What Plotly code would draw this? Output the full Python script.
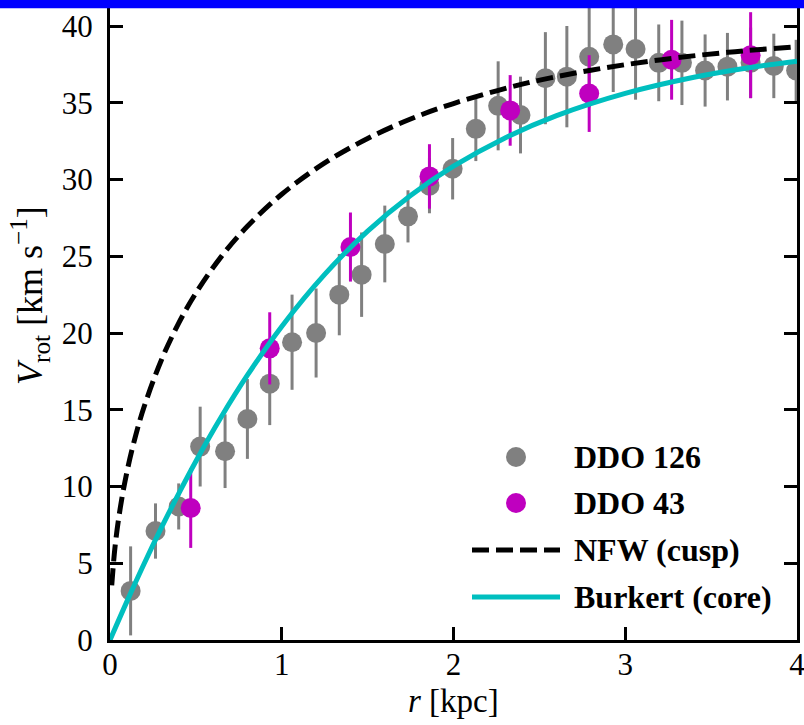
import plotly.graph_objects as go

# ---------------- data ----------------
r_ddo126 = [0.12, 0.265, 0.40, 0.525, 0.67, 0.80, 0.93, 1.06, 1.20, 1.335,
            1.465, 1.60, 1.735, 1.86, 1.995, 2.13, 2.26, 2.39, 2.535, 2.66,
            2.79, 2.93, 3.06, 3.195, 3.33, 3.465, 3.595, 3.73, 3.865, 3.995]
v_ddo126 = [3.2, 7.1, 8.7, 12.6, 12.3, 14.4, 16.7, 19.4, 20.0, 22.5,
            23.8, 25.8, 27.6, 29.6, 30.7, 33.3, 34.8, 34.2, 36.6, 36.7,
            38.0, 38.8, 38.5, 37.6, 37.6, 37.1, 37.35, 37.6, 37.4, 37.1]
e_ddo126 = [2.9, 1.8, 1.5, 2.6, 2.4, 2.6, 2.7, 3.1, 2.9, 2.65,
            2.75, 2.5, 1.7, 1.8, 2.0, 2.1, 2.9, 2.5, 3.0, 3.3,
            3.3, 3.1, 3.3, 2.5, 2.75, 2.35, 2.2, 2.3, 2.1, 2.0]

r_ddo43 = [0.47, 0.93, 1.40, 1.86, 2.33, 2.79, 3.27, 3.73]
v_ddo43 = [8.6, 19.0, 25.6, 30.2, 34.5, 35.6, 37.8, 38.1]
e_ddo43 = [2.6, 2.35, 2.25, 2.1, 2.3, 2.5, 2.6, 2.8]

r_nfw = [0.01, 0.03, 0.06, 0.1, 0.15, 0.2, 0.3, 0.4, 0.5, 0.65, 0.8, 1.0,
         1.25, 1.5, 1.75, 2.0, 2.4, 2.8, 3.2, 3.6, 4.0]
v_nfw = [3.56, 6.14, 8.62, 11.03, 13.35, 15.24, 18.26, 20.64, 22.60, 25.01,
         26.95, 29.04, 31.08, 32.67, 33.94, 34.95, 36.21, 37.12, 37.79, 38.29, 38.65]

r_burkert = [0, 0.1, 0.2, 0.3, 0.4, 0.5, 0.65, 0.8, 1.0, 1.25, 1.5, 1.75,
             2.0, 2.3, 2.6, 3.0, 3.4, 3.7, 4.0]
v_burkert = [0, 2.55, 5.00, 7.33, 9.54, 11.65, 14.58, 17.25, 20.43, 23.82,
             26.64, 28.96, 30.87, 32.71, 34.16, 35.61, 36.66, 37.25, 37.7]

x_ticks = [0, 1, 2, 3, 4]
y_ticks = [0, 5, 10, 15, 20, 25, 30, 35, 40]

legend_labels = ["DDO 126", "DDO 43", "NFW (cusp)", "Burkert (core)"]

GREY = "#808080"
MAGENTA = "#bf00bf"
CYAN = "#00bfbf"
SERIF = "Liberation Serif, Times New Roman, serif"

# ---------------- geometry ----------------
W, H = 804, 725
ML, MR, MT, MB = 110, 7, 0, 85
PW, PH = W - ML - MR, H - MT - MB


def px(xp):
    return (xp - ML) / PW


def py(yp):
    return (H - MB - yp) / PH


fig = go.Figure()

fig.add_trace(go.Scatter(
    x=r_ddo126, y=v_ddo126, mode="markers", name=legend_labels[0],
    marker=dict(color=GREY, size=20),
    error_y=dict(type="data", array=e_ddo126, color=GREY, thickness=3, width=0),
    showlegend=False))

fig.add_trace(go.Scatter(
    x=r_ddo43, y=v_ddo43, mode="markers", name=legend_labels[1],
    marker=dict(color=MAGENTA, size=20),
    error_y=dict(type="data", array=e_ddo43, color=MAGENTA, thickness=3, width=0),
    showlegend=False))

fig.add_trace(go.Scatter(
    x=r_nfw, y=v_nfw, mode="lines", name=legend_labels[2],
    line=dict(color="black", width=5, dash="17px,7px", shape="spline"),
    showlegend=False))

fig.add_trace(go.Scatter(
    x=r_burkert, y=v_burkert, mode="lines", name=legend_labels[3],
    line=dict(color=CYAN, width=5, shape="spline"),
    showlegend=False))

# ---------------- hand-made legend on an overlay axis ----------------
leg_y = [457, 503, 550, 597]
fig.add_trace(go.Scatter(x=[px(516)], y=[py(leg_y[0])], xaxis="x2", yaxis="y2",
                         mode="markers", marker=dict(color=GREY, size=20),
                         showlegend=False, hoverinfo="skip"))
fig.add_trace(go.Scatter(x=[px(516)], y=[py(leg_y[1])], xaxis="x2", yaxis="y2",
                         mode="markers", marker=dict(color=MAGENTA, size=20),
                         showlegend=False, hoverinfo="skip"))
fig.add_trace(go.Scatter(x=[px(472), px(560)], y=[py(leg_y[2])] * 2, xaxis="x2", yaxis="y2",
                         mode="lines", line=dict(color="black", width=5, dash="17px,7px"),
                         showlegend=False, hoverinfo="skip"))
fig.add_trace(go.Scatter(x=[px(472), px(560)], y=[py(leg_y[3])] * 2, xaxis="x2", yaxis="y2",
                         mode="lines", line=dict(color=CYAN, width=5),
                         showlegend=False, hoverinfo="skip"))

annotations = []
for lab, yy in zip(legend_labels, leg_y):
    annotations.append(dict(
        text="<b>" + lab + "</b>", xref="paper", yref="paper",
        x=px(572), y=py(yy), xanchor="left", yanchor="middle",
        showarrow=False, font=dict(family=SERIF, size=32, color="black")))

# axis titles
annotations.append(dict(
    text="<i>V</i><sub>rot</sub> [km s<sup>−1</sup>]", xref="paper", yref="paper",
    x=px(30), y=py(296), xanchor="center", yanchor="middle", textangle=-90,
    showarrow=False, font=dict(family=SERIF, size=36, color="black")))
annotations.append(dict(
    text="<i>r</i> [kpc]", xref="paper", yref="paper",
    x=0.5, y=py(701), xanchor="center", yanchor="middle",
    showarrow=False, font=dict(family=SERIF, size=33, color="black")))

fig.update_layout(
    width=W, height=H,
    margin=dict(l=ML, r=MR, t=MT, b=MB, pad=0),
    paper_bgcolor="white", plot_bgcolor="white",
    showlegend=False,
    font=dict(family=SERIF, color="black"),
    xaxis=dict(range=[0, 4], tickvals=x_ticks, ticktext=[str(t) for t in x_ticks],
               ticks="inside", ticklen=13, tickwidth=2.5, tickcolor="black",
               showline=True, linewidth=3, linecolor="black", mirror=False,
               showgrid=False, zeroline=False, ticklabeloverflow="allow",
               ticklabelstandoff=-5,
               tickfont=dict(family=SERIF, size=31, color="black")),
    yaxis=dict(range=[0, (H - MB) / 15.35], tickvals=y_ticks, ticktext=[str(t) for t in y_ticks],
               ticks="inside", ticklen=13, tickwidth=2.5, tickcolor="black",
               showline=True, linewidth=3, linecolor="black", mirror="ticks",
               showgrid=False, zeroline=False, ticklabeloverflow="allow",
               ticklabelstandoff=8,
               tickfont=dict(family=SERIF, size=31, color="black")),
    xaxis2=dict(overlaying="x", range=[0, 1], visible=False, fixedrange=True),
    yaxis2=dict(overlaying="y", range=[0, 1], visible=False, fixedrange=True),
    annotations=annotations,
    shapes=[dict(type="rect", xref="paper", yref="paper",
                 x0=px(-5), x1=px(W + 5), y0=py(8.3), y1=py(-2),
                 fillcolor="#0000ff", line=dict(width=0), layer="above")],
)

fig.write_html("out.html")
